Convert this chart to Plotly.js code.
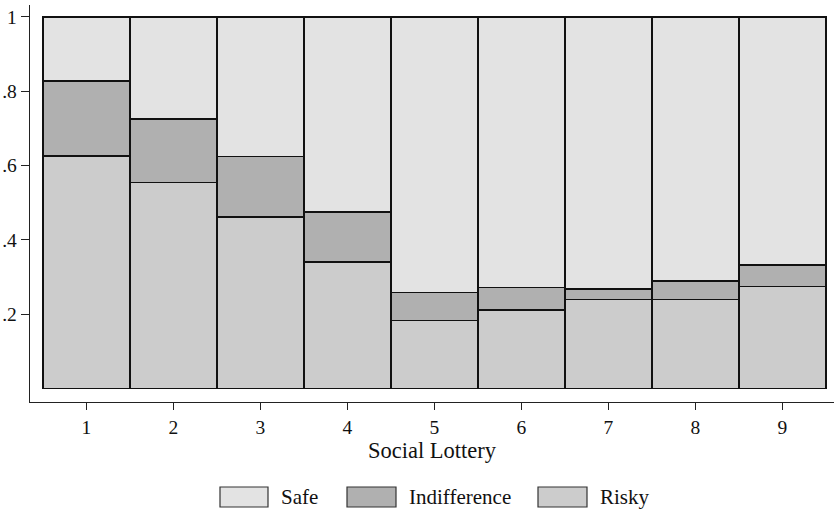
<!DOCTYPE html>
<html><head><meta charset="utf-8">
<script src="https://cdn.plot.ly/plotly-3.0.1.min.js"></script>
<style>body{margin:0;background:#fff}#c{width:834px;height:512px}</style>
</head><body><div id="c"></div>
<script>
const lotteries = [1,2,3,4,5,6,7,8,9];
const risky = [0.626,0.554,0.462,0.341,0.183,0.211,0.240,0.240,0.275];
const indifference = [0.202,0.171,0.163,0.134,0.075,0.061,0.028,0.050,0.057];
const safe = risky.map((r,i)=>+(1 - r - indifference[i]).toFixed(3));
const seriesNames = ['Risky','Indifference','Safe'];
const seriesColors = {Risky:'#cccccc', Indifference:'#b0b0b0', Safe:'#e3e3e3'};
const yTickVals = [0.2,0.4,0.6,0.8,1];
const yTickText = ['.2','.4','.6','.8','1'];
const FONT = "'Liberation Serif', 'Times New Roman', serif";

const dataMap = {Risky:risky, Indifference:indifference, Safe:safe};
const traces = seriesNames.map(n=>({
  type:'bar', name:n, x:lotteries, y:dataMap[n],
  marker:{color:seriesColors[n], line:{color:'#111', width:1.5}},
  width:1, showlegend:false, hoverinfo:'skip'
}));

// custom legend (boxes + labels) in paper coordinates
const L = 30, W = 804, T = 5, H = 397;
const px = v => (v - L)/W, py = v => (T + H - v)/H;
const legendItems = [
  {name:'Safe', x0:220, x1:268, tx:279},
  {name:'Indifference', x0:347, x1:396, tx:407},
  {name:'Risky', x0:538, x1:587, tx:598}
];
const shapes = legendItems.map(it=>({
  type:'rect', xref:'paper', yref:'paper',
  x0:px(it.x0), x1:px(it.x1), y0:py(507), y1:py(487),
  fillcolor:seriesColors[it.name], line:{color:'#333', width:1.2}
}));
const annotations = legendItems.map(it=>({
  xref:'paper', yref:'paper', x:px(it.tx), y:py(497), xanchor:'left', yanchor:'middle',
  text:it.name, showarrow:false, font:{family:FONT, size:21, color:'#111'}
}));

const layout = {
  width:834, height:512,
  margin:{l:30, r:0, t:5, b:110},
  paper_bgcolor:'#fff', plot_bgcolor:'#fff',
  barmode:'stack', bargap:0,
  font:{family:FONT, color:'#111', size:19},
  xaxis:{
    range:[0.351, 9.592], tickvals:lotteries, ticktext:lotteries.map(String),
    showline:true, linecolor:'#222', linewidth:1.3, ticks:'outside', ticklen:7, tickcolor:'#222',
    showgrid:false, zeroline:false, tickfont:{family:FONT, size:19.5},
    title:{text:'Social Lottery', font:{family:FONT, size:22.5}, standoff:5}
  },
  yaxis:{
    range:[-0.036, 1.032], tickvals:yTickVals, ticktext:yTickText,
    showline:true, linecolor:'#222', linewidth:1.3, ticks:'outside', ticklen:8, tickcolor:'#222',
    showgrid:false, zeroline:false, tickfont:{family:FONT, size:19.5}
  },
  shapes, annotations
};
Plotly.newPlot('c', traces, layout, {displayModeBar:false, staticPlot:true});
</script></body></html>
